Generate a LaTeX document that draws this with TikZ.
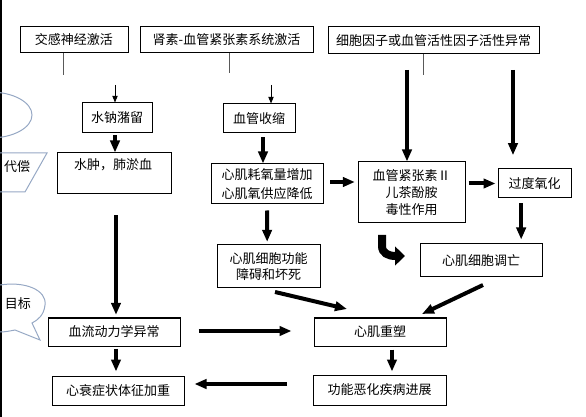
\documentclass[tikz,border=0pt]{standalone}
\usepackage{fontspec}
\setmainfont{Noto Sans CJK SC}
\usetikzlibrary{arrows.meta}

\definecolor{bubbleblue}{RGB}{150,168,196}

\tikzset{
    sz/.style 2 args={minimum width=#1*0.75pt, minimum height=#2*0.75pt},
    box/.style={draw, line width=0.75pt, inner sep=0pt, align=center,
        font=\fontsize{9.75}{12.5}\selectfont},
    txt/.style={inner sep=0pt, font=\fontsize{9.75}{12.5}\selectfont},
    fat/.style={line width=3pt, -{Triangle[length=9pt,width=7pt]}},
    slim/.style={line width=0.75pt, -{Triangle[length=5pt,width=4pt]}},
    stub/.style={line width=0.75pt, gray!70!black},
    bubble/.style={draw=bubbleblue, line width=0.75pt},
}

\begin{document}
\begin{tikzpicture}[x=0.75pt,y=-0.75pt]
    \useasboundingbox (0,0) rectangle (586,417);
    \clip (0,0) rectangle (586,417);

    \draw [line width=1pt] (1,0) -- (1,417);

    % cut shapes at the left edge
    \draw [bubble] (-10,115) ellipse [x radius=42, y radius=23];
    \draw [bubble] (-5,153) -- (47,153) -- (25,192) -- (-5,192);
    \node [txt] (parat) at (17,167) {代偿};
    \draw [bubble] (0,285) .. controls (25,281) and (47,290) .. (45,305)
        .. controls (44,315) and (38,320) .. (32,323) -- (40,340) -- (15,330)
        .. controls (10,331) and (5,332) .. (0,332);
    \node [txt] (bubt) at (18,304) {目标};

    % boxes
    \node [box, sz={108}{26}] (symp) at (74,40) {交感神经激活};
    \node [box, sz={173}{26}] (raas) at (226.5,40) {肾素-血管紧张素系统激活};
    \node [box, sz={211}{27}] (cyto) at (433.5,40.5) {细胞因子或血管活性因子活性异常};
    \node [box, sz={70}{30}] (retent) at (117,118) {水钠潴留};
    \node [box, sz={72}{29}] (vaso) at (259,118.5) {血管收缩};
    \node [box, sz={114}{41}] (edema) at (114,173.5) {};
    \node [txt] (edemat) at (113,165) {水肿，肺淤血};
    \node [box, sz={112}{40}, font=\fontsize{9.75}{14}\selectfont] (oxy) at (267,184)
        {心肌耗氧量增加\\心肌氧供应降低};
    \node [box, sz={103}{43}] (necro) at (268.5,266.5) {心肌细胞功能\\障碍和坏死};
    \node [box, sz={107}{61}] (toxic) at (411.5,192.5) {血管紧张素Ⅱ\\儿茶酚胺\\毒性作用};
    \node [box, sz={73}{29}] (oxid) at (534.5,183.5) {过度氧化};
    \node [box, sz={122}{33}] (apopt) at (481,260.5) {心肌细胞调亡};
    \node [box, sz={132}{28}] (hemo) at (114,332) {血流动力学异常};
    \node [box, sz={132}{28}] (remod) at (380,332) {心肌重塑};
    \node [box, sz={132}{29}] (hf) at (118,390.5) {心衰症状体征加重};
    \node [box, sz={133}{30}] (prog) at (379.5,390) {功能恶化疾病进展};

    % stubs and thin arrows
    \coordinate (symp1) at (63,75);
    \coordinate (raas1) at (229,73);
    \coordinate (cyto1) at (423,75);
    \draw [stub] (symp.south -| symp1) -- (symp1);
    \draw [stub] (raas.south -| raas1) -- (raas1);
    \draw [stub] (cyto.south -| cyto1) -- (cyto1);
    \coordinate (r0) at (115,85);
    \coordinate (v0) at (271,85);
    \draw [slim] (r0) -- (r0 |- retent.north);
    \draw [slim] (v0) -- (v0 |- vaso.north);

    % thick arrows
    \coordinate (c1) at (407,70);
    \coordinate (c2) at (513,70);
    \draw [fat] (c1) -- (c1 |- toxic.north);
    \draw [fat, shorten >=10pt] (c2) -- (c2 |- oxid.north);
    \draw [fat, shorten <=1.5pt] ([xshift=-1.5pt]retent.south) -- ([xshift=0.75pt]edema.north);
    \draw [fat, shorten <=3pt] ([xshift=3pt]vaso.south) -- ([xshift=-3pt]oxy.north);
    \draw [fat, shorten <=4.5pt, shorten >=2pt] (oxy.south) -- ([xshift=-1pt]necro.south |- necro.north);
    \draw [fat, shorten <=15.75pt, shorten >=2pt] ([xshift=1.5pt]edema.south) -- ([xshift=1.5pt]hemo.north);
    \draw [fat, shorten <=5pt, shorten >=2pt] ([yshift=1.5pt]oxy.east) -- ([yshift=1.5pt]oxy.east -| toxic.west);
    \draw [fat, shorten <=2.25pt, shorten >=1.5pt] (toxic.east |- oxid) -- (oxid.west);
    \draw [fat, shorten <=3.75pt, shorten >=3pt] ([xshift=-10pt]oxid.south) -- ([xshift=-10pt]oxid.south |- apopt.north);
    \draw [fat, shorten <=13.5pt, shorten >=16.5pt] ([yshift=0.75pt]hemo.east) -- ([yshift=0.75pt]remod.west);
    \draw [fat, shorten <=2.25pt, shorten >=2.25pt] ([xshift=9pt]remod.south) -- ([xshift=9pt]remod.south |- prog.north);
    \draw [fat, shorten <=1.5pt, shorten >=3pt] ([xshift=1.5pt]hemo.south) -- ([xshift=-1.5pt]hf.north);
    \draw [fat, shorten <=19pt, shorten >=7.5pt] ([yshift=4.5pt]prog.west) -- ([yshift=4.5pt]prog.west -| hf.east);

    \coordinate (hm0) at (275,292);
    \coordinate (hm1) at (347,309);
    \coordinate (km0) at (483,285);
    \coordinate (km1) at (422,314);
    \draw [fat] (hm0) -- (hm1);
    \draw [fat] (km0) -- (km1);

    \coordinate (bend0) at (382,235);
    \coordinate (bend1) at (405,256);
    \draw [line width=6pt, -{Triangle[length=7.5pt,width=14pt]}]
        (bend0) -- (382,246) .. controls (382,253) and (388,256) .. (bend1);

\end{tikzpicture}
\end{document}
